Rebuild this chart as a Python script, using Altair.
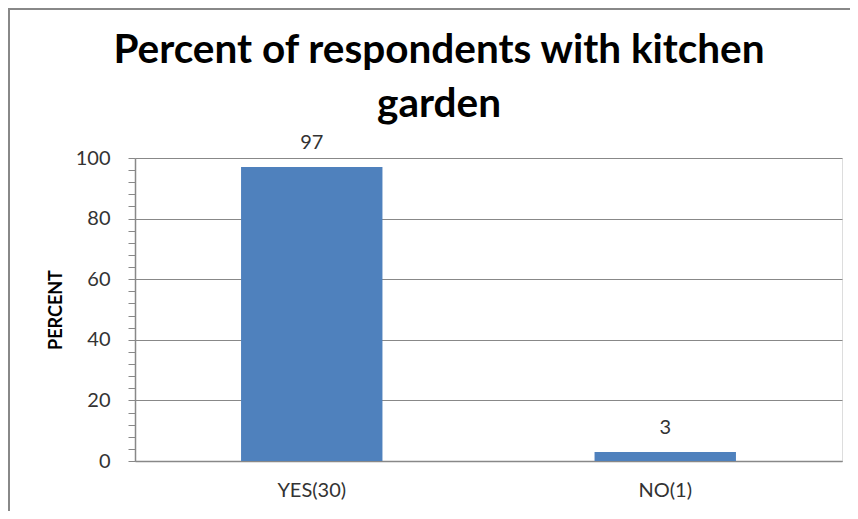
import altair as alt
import pandas as pd

categories = ["YES(30)", "NO(1)"]
percents = [97, 3]
y_ticks = list(range(0, 101, 4))

title_lines = ["Percent of respondents with kitchen", "garden"]
y_title = "PERCENT"

df = pd.DataFrame({"category": categories, "percent": percents})

GRAY = "#888888"
TXT = "#333333"
FONT = "Lato"

base = alt.Chart(df).encode(
    x=alt.X(
        "category:N",
        sort=categories,
        title=None,
        scale=alt.Scale(paddingInner=0.6, paddingOuter=0.3),
        axis=alt.Axis(
            labelAngle=0,
            ticks=False,
            domainColor=GRAY,
            domainWidth=1.5,
            labelFont=FONT,
            labelFontSize=20,
            labelColor=TXT,
            labelPadding=19,
        ),
    ),
    y=alt.Y(
        "percent:Q",
        title=y_title,
        scale=alt.Scale(domain=[0, 100], nice=False),
        axis=alt.Axis(
            values=y_ticks,
            labelExpr="datum.value % 20 === 0 ? datum.label : ''",
            labelOverlap=False,
            labelFont=FONT,
            labelFontSize=20,
            labelColor=TXT,
            labelPadding=18,
            tickSize=7,
            tickColor=GRAY,
            domainColor=GRAY,
            domainWidth=1.5,
            grid=True,
            gridColor=GRAY,
            gridWidth=1.2,
            gridOpacity={"condition": {"test": "datum.value % 20 === 0", "value": 1}, "value": 0},
            titleFont=FONT,
            titleFontSize=18,
            titleFontWeight="bold",
            titleColor="#000000",
            titleBaseline="middle",
            titleX=-79,
            titleY=151.5,
        ),
    ),
)

bars = base.mark_bar(color="#4F81BD")
labels = base.mark_text(
    baseline="alphabetic", dy=-18, font=FONT, fontSize=20, color=TXT
).encode(text="percent:Q")

one_df = pd.DataFrame({"f": [0]})
title_mark = alt.Chart(one_df).mark_text(
    text=title_lines,
    font=FONT,
    fontSize=40.5,
    fontWeight="bold",
    color="#000000",
    align="center",
    baseline="alphabetic",
    lineHeight=54,
).encode(x=alt.value(304), y=alt.value(-95))

frame_v = alt.Chart(one_df).mark_rule(color=GRAY, strokeWidth=2).encode(
    x=alt.value(-126), y=alt.value(-150), y2=alt.value(353)
)
frame_h = alt.Chart(one_df).mark_rule(color=GRAY, strokeWidth=2).encode(
    x=alt.value(-127), x2=alt.value(720), y=alt.value(-149)
)

chart = (
    alt.layer(bars, labels, title_mark, frame_v, frame_h)
    .properties(
        width=707,
        height=303,
        autosize=alt.AutoSizeParams(type="none"),
        padding={"left": 127, "top": 150, "right": 8, "bottom": 50},
    )
    .configure_view(stroke=None)
    .configure(background="#ffffff")
)

chart.save("out.html", embed_options={"renderer": "svg", "actions": False})
